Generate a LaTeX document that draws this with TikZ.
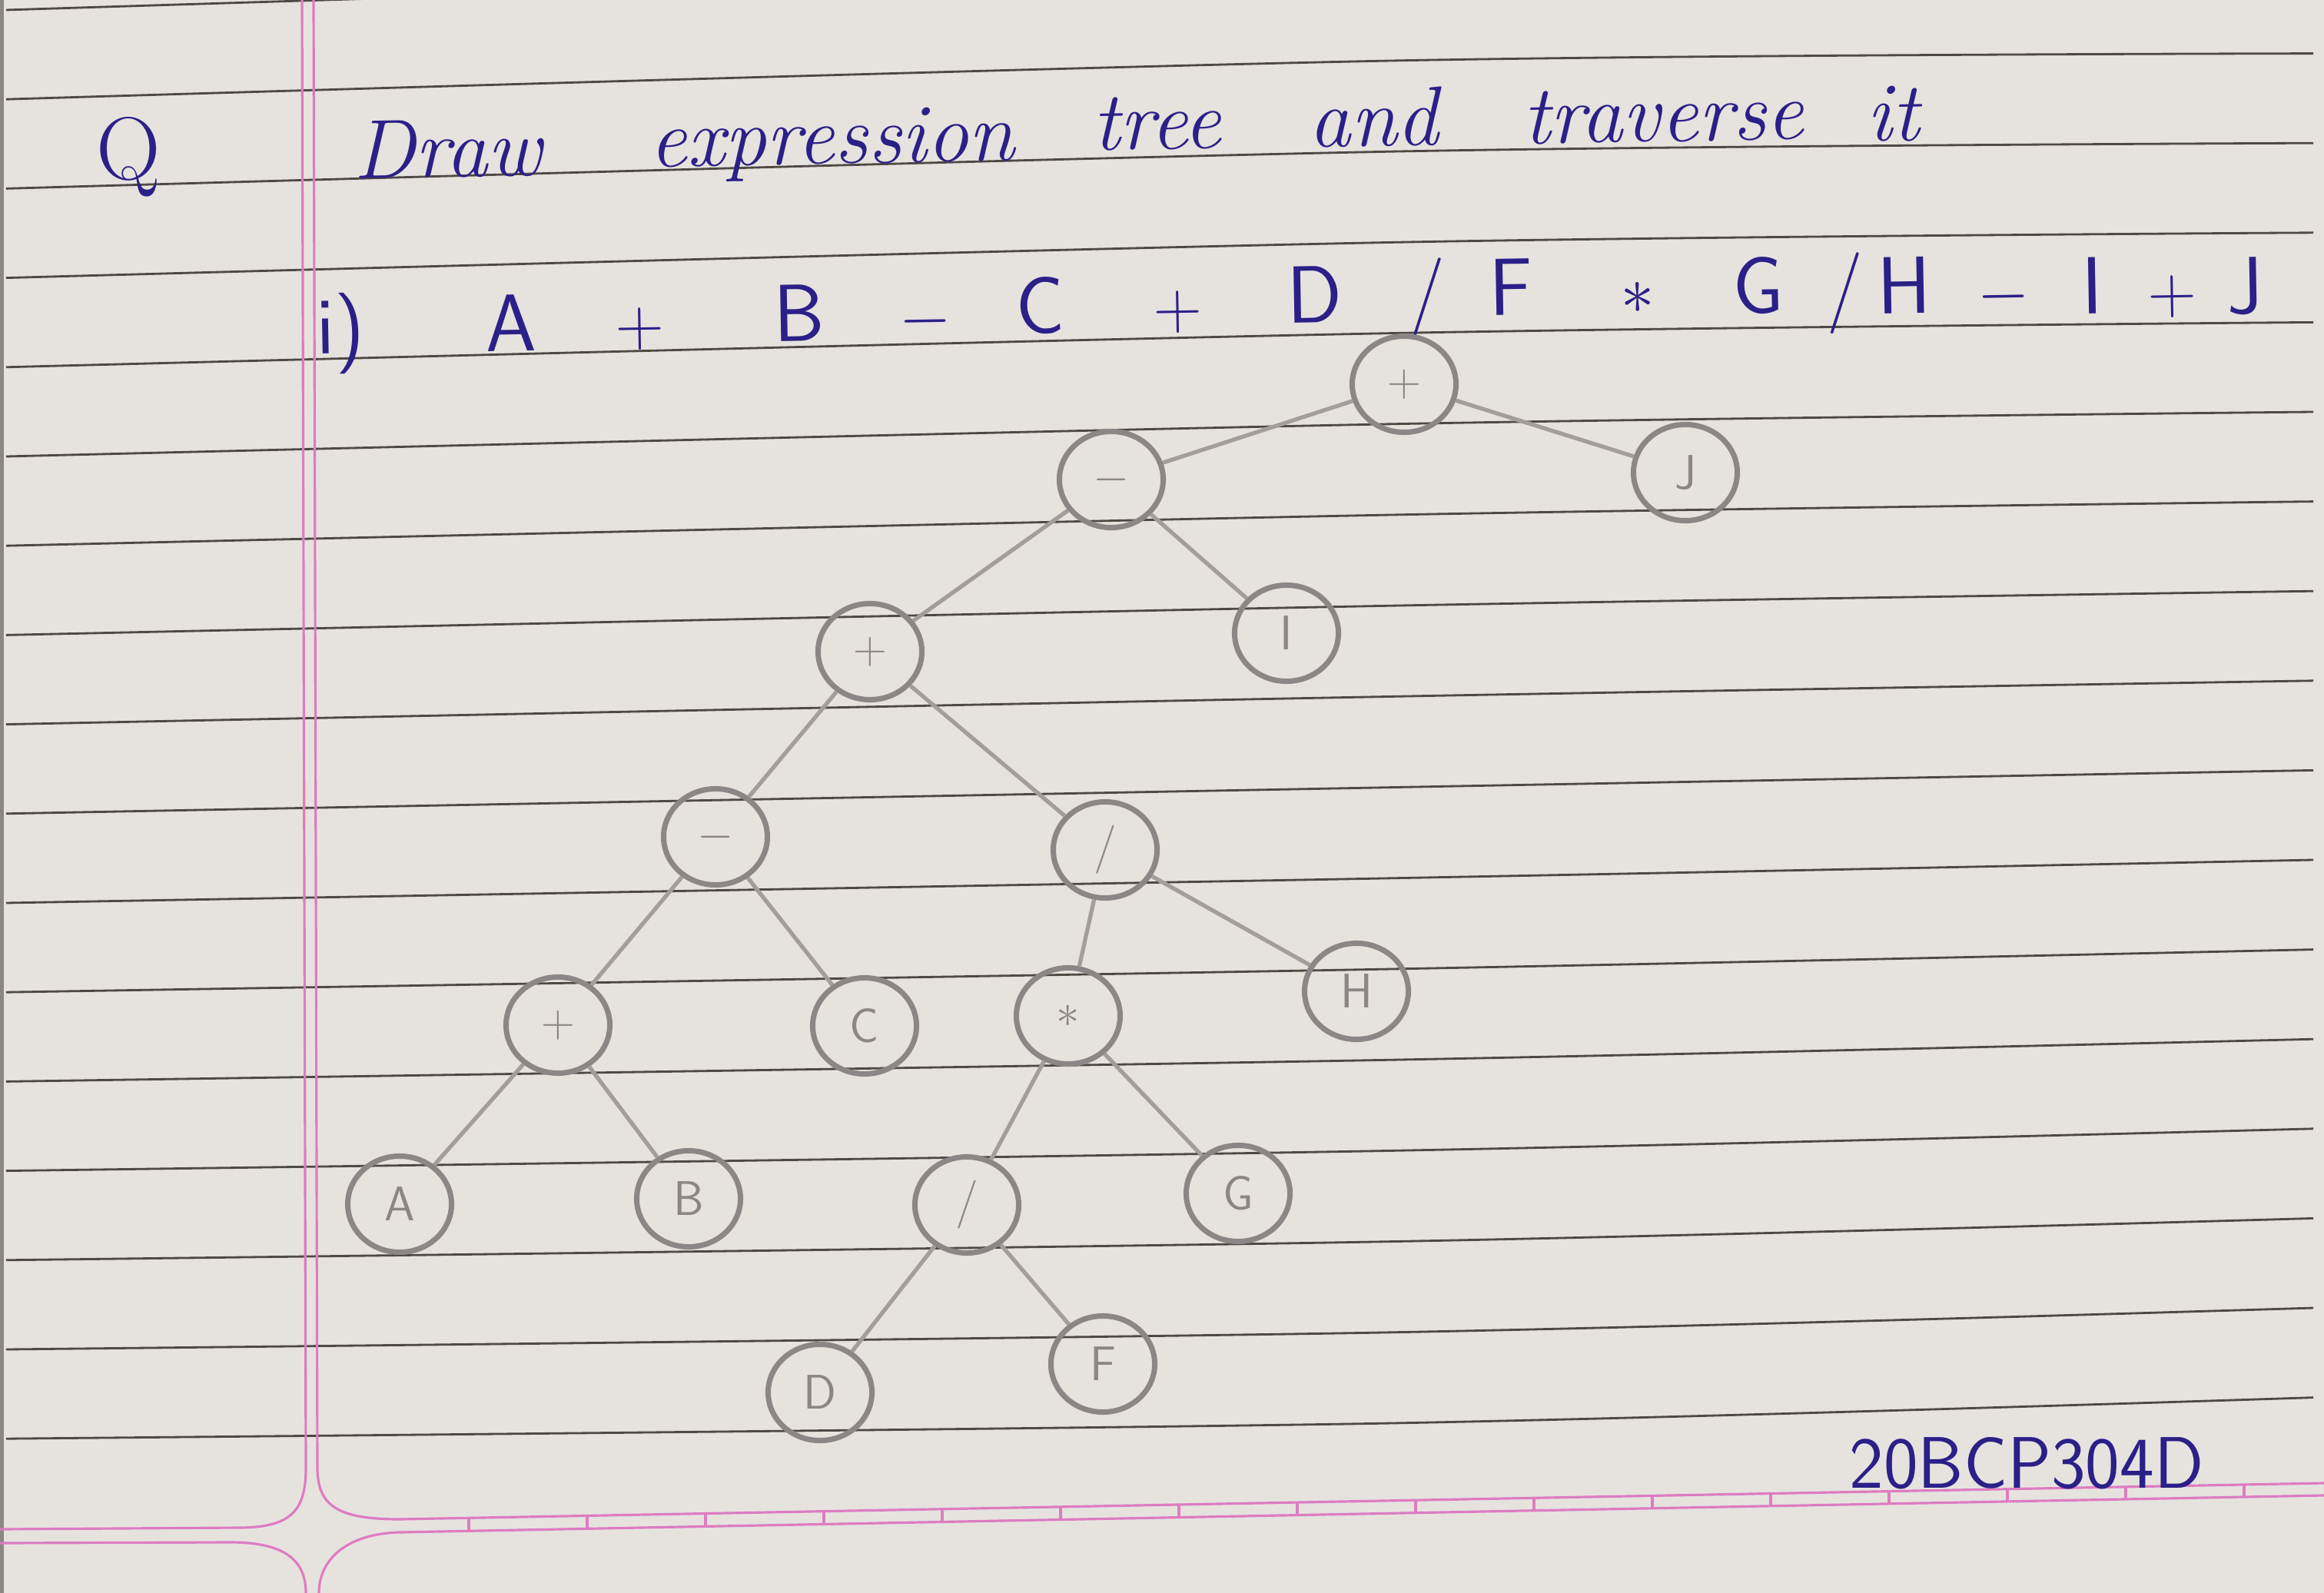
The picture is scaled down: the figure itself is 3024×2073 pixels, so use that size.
\documentclass[tikz,border=0pt]{standalone}
\usepackage{fontspec}
\usetikzlibrary{shapes.geometric}
\definecolor{paper}{HTML}{E6E3DF}
\definecolor{rule}{HTML}{4F4945}
\definecolor{margin}{HTML}{DE7CC0}
\definecolor{ink}{HTML}{2B2088}
\definecolor{pencil}{HTML}{8C8786}
\definecolor{edgegray}{HTML}{A39E9C}
\newcommand{\divsym}{/}
\begin{document}
\begin{tikzpicture}[x=0.01cm, y=-0.01cm,
  vertex/.style={ellipse, draw=pencil, line width=2pt, minimum width=1.35cm, minimum height=1.25cm, inner sep=0pt, text=pencil, font=\fontsize{18}{20}\selectfont\sffamily},
  edge/.style={draw=edgegray, line width=1.5pt},
  ruled/.style={rule, line width=0.8pt},
  pinkline/.style={margin, line width=0.9pt},
  hand/.style={ink, anchor=base, rotate=1, font=\fontsize{31}{34}\selectfont\itshape},
  sym/.style={ink, anchor=base, rotate=1, font=\fontsize{30}{34}\selectfont\sffamily}]

\fill[paper] (0,0) rectangle (3024,2073);
\useasboundingbox (0,0) rectangle (3024,2073);
\fill[rule!60!paper] (0,0) rectangle (5,2073);

% ruled lines
\foreach \k in {0,...,16} {
  \pgfmathsetmacro{\yl}{13+116.2*\k}
  \pgfmathsetmacro{\ym}{\yl-52+2*\k}
  \pgfmathsetmacro{\yr}{\yl-60+0.4*\k}
  \draw[ruled] plot[smooth] coordinates {(8,\yl) (1800,\ym) (3010,\yr)};
}

% margin
\draw[pinkline] (393,0) -- (398,1910) .. controls (398,1965) and (380,1988) .. (310,1988) -- (0,1990);
\draw[pinkline] (408,0) -- (413,1910) .. controls (413,1960) and (440,1977) .. (520,1977) -- (3024,1930);
\draw[pinkline] (0,2008) -- (300,2007) .. controls (370,2007) and (398,2030) .. (398,2073);
\draw[pinkline] (3024,1946) -- (520,1994) .. controls (450,1996) and (415,2030) .. (415,2073);
\foreach \x in {610,764,...,2920} {
  \pgfmathsetmacro{\yt}{1977-0.01877*(\x-520)}
  \draw[pinkline] (\x,\yt) -- (\x,\yt+16);
}

% question
\node[ink, anchor=base, font=\fontsize{33}{36}\selectfont] (q) at (167,234) {Q};
\foreach \w/\x/\y [count=\i] in {Draw/583/230, expression/1083/213, tree/1506/194, and/1788/190, traverse/2165/184, it/2464/183}
  \node[hand] (w\i) at (\x,\y) {\w};

% expression
\foreach \s/\x/\y [count=\i] in {i)/444/460, A/665/457, {$+$}/833/450, B/1041/444, {$-$}/1205/440, C/1354/434, {$+$}/1533/428, D/1711/420, \divsym/1857/415, F/1967/410, {$\ast$}/2131/408, G/2289/408, \divsym/2401/408, H/2478/408, {$-$}/2607/408, I/2723/408, {$+$}/2827/408, J/2922/408}
  \node[sym] (e\i) at (\x,\y) {\s};

% tree
\node[vertex] (root) at (1827,500) {$+$};
\node[vertex] (nJ) at (2193,615) {J};
\node[vertex] (mnsA) at (1446,624) {$-$};
\node[vertex] (nI) at (1674,824) {I};
\node[vertex] (plsA) at (1132,848) {$+$};
\node[vertex] (mnsB) at (931,1089) {$-$};
\node[vertex] (divA) at (1438,1106) {/};
\node[vertex] (nH) at (1765,1290) {H};
\node[vertex] (plsB) at (726,1334) {$+$};
\node[vertex] (nC) at (1125,1335) {C};
\node[vertex] (mulA) at (1390,1322) {$\ast$};
\node[vertex] (nA) at (520,1567) {A};
\node[vertex] (nB) at (896,1560) {B};
\node[vertex] (divB) at (1258,1568) {/};
\node[vertex] (nG) at (1611,1553) {G};
\node[vertex] (nD) at (1067,1812) {D};
\node[vertex] (nF) at (1435,1775) {F};

\draw[edge] (root) -- (mnsA);
\draw[edge] (root) -- (nJ);
\draw[edge] (mnsA) -- (plsA);
\draw[edge] (mnsA) -- (nI);
\draw[edge] (plsA) -- (mnsB);
\draw[edge] (plsA) -- (divA);
\draw[edge] (mnsB) -- (plsB);
\draw[edge] (mnsB) -- (nC);
\draw[edge] (plsB) -- (nA);
\draw[edge] (plsB) -- (nB);
\draw[edge] (divA) -- (mulA);
\draw[edge] (divA) -- (nH);
\draw[edge] (mulA) -- (divB);
\draw[edge] (mulA) -- (nG);
\draw[edge] (divB) -- (nD);
\draw[edge] (divB) -- (nF);

% roll number
\node[ink, anchor=base, font=\fontsize{27}{30}\selectfont\sffamily] (roll) at (2637,1936) {20BCP304D};

\end{tikzpicture}
\end{document}
